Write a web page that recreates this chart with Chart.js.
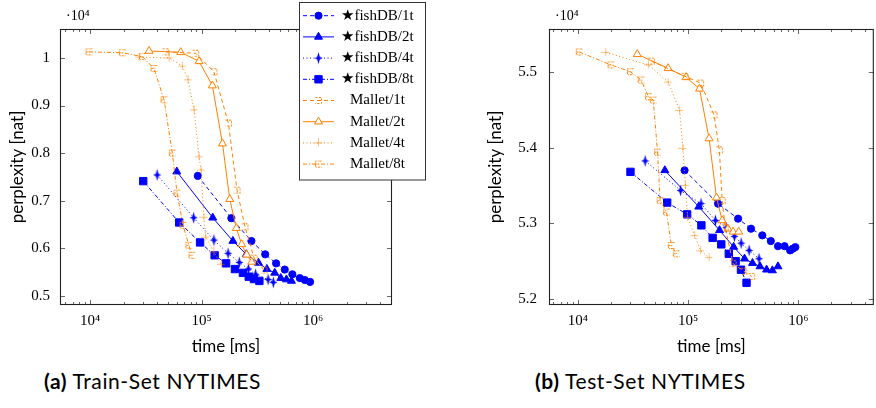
<!DOCTYPE html>
<html>
<head>
<meta charset="utf-8">
<script src="https://cdn.jsdelivr.net/npm/chart.js@4.4.1/dist/chart.umd.min.js"></script>
<style>
  html, body { margin: 0; padding: 0; background: #fff; width: 876px; height: 408px; overflow: hidden; }
  #trainBox { position: absolute; left: 0; top: 0; width: 470px; height: 360px; }
  #testBox  { position: absolute; left: 470px; top: 0; width: 410px; height: 360px; }
  .cap { position: absolute; top: 369px; font-family: Lato, sans-serif; font-size: 21px; letter-spacing: 0.6px; line-height: 24px; color: #000; white-space: nowrap; }
  .cap b { font-weight: 700; }
</style>
</head>
<body>
<div id="trainBox"><canvas id="trainChart" width="470" height="360"></canvas></div>
<div id="testBox"><canvas id="testChart" width="410" height="360"></canvas></div>
<div class="cap" style="left:44px"><b>(a)</b> Train-Set NYTIMES</div>
<div class="cap" style="left:535px"><b>(b)</b> Test-Set NYTIMES</div>

<script>
// --- DATA: time [ms] (x) and perplexity [nat] (y) ---

// (a) Train-Set
const trainFish1tX = [92500, 185000, 280000, 372000, 466000, 557000, 652000, 760000, 843000, 940000];
const trainFish1tY = [7520, 6630, 6150, 5870, 5680, 5550, 5450, 5370, 5330, 5290];
const trainFish2tX = [60000, 126000, 191000, 252000, 324000, 385000, 453000, 513000, 577000, 640000];
const trainFish2tY = [7610, 6640, 6150, 5870, 5690, 5560, 5480, 5370, 5340, 5310];
const trainFish4tX = [40000, 85000, 129000, 173000, 218000, 263000, 305000, 395000, 440000];
const trainFish4tY = [7540, 6640, 6170, 5890, 5700, 5560, 5450, 5340, 5280];
const trainFish8tX = [30000, 63000, 97000, 131000, 166000, 199000, 235000, 265000, 295000, 330000];
const trainFish8tY = [7410, 6540, 6120, 5850, 5680, 5560, 5480, 5400, 5350, 5310];
const trainMal1tX  = [47800, 88700, 129000, 174000, 208000, 245000, 296000, 363000];
const trainMal1tY  = [10130, 10100, 9710, 8630, 7220, 6450, 5790, 5540];
const trainMal2tX  = [33800, 65000, 95000, 125000, 154000, 179000, 205000, 229000, 254000, 282000];
const trainMal2tY  = [10147, 10120, 9930, 9420, 8200, 7030, 6420, 6080, 5860, 5710];
const trainMal4tX  = [27500, 51200, 67300, 75700, 85700, 95000, 99000, 105000, 109000, 129000, 150000];
const trainMal4tY  = [10020, 10000, 9830, 9540, 8910, 7920, 7640, 6650, 6230, 5920, 5660];
const trainMal8tX  = [9800, 19500, 29500, 37500, 46100, 54700, 60300, 68200, 77000, 82000];
const trainMal8tY  = [10130, 10110, 10030, 9780, 9120, 8000, 7160, 6480, 6060, 5850];

// (b) Test-Set
const testFish1tX = [92900, 187000, 284000, 372000, 471000, 563000, 654000, 750000, 843000, 891000, 940000];
const testFish1tY = [53700, 53260, 53063, 52931, 52843, 52768, 52700, 52700, 52645, 52667, 52688];
const testFish2tX = [61500, 125000, 193000, 259000, 325000, 384000, 449000, 515000, 582000, 654000];
const testFish2tY = [53700, 53220, 52910, 52690, 52535, 52477, 52433, 52390, 52380, 52433];
const testFish4tX = [40800, 85500, 131000, 177000, 222000, 263000, 303000, 358000, 440000];
const testFish4tY = [53824, 53435, 53262, 53040, 52944, 52830, 52740, 52645, 52535];
const testFish8tX = [30000, 64600, 98000, 132000, 167000, 200000, 234000, 270000, 302000, 339000];
const testFish8tY = [53680, 53275, 53120, 52975, 52810, 52724, 52600, 52503, 52390, 52218];
const testMal1tX  = [46400, 93500, 130000, 172000, 192000, 204000, 217000, 256000, 320000, 378000];
const testMal1tY  = [55140, 54940, 54850, 54430, 53970, 53300, 52950, 52470, 52370, 52300];
const testMal2tX  = [34600, 65900, 96000, 127000, 155000, 181000, 204000, 230000, 256000, 288000];
const testMal2tY  = [55230, 55045, 54926, 54775, 54120, 53340, 53040, 52930, 52890, 52890];
const testMal4tX  = [17900, 43600, 66000, 83800, 89700, 94500, 99000, 115000, 130000, 155000];
const testMal4tY  = [55255, 55090, 54864, 54490, 53990, 53500, 53080, 52840, 52640, 52550];
const testMal8tX  = [10300, 20000, 30000, 37500, 43700, 48300, 52800, 55800, 63700, 70500, 78200];
const testMal8tY  = [55260, 55090, 55000, 54890, 54670, 54626, 53940, 53300, 53150, 52710, 52600];

const seriesLabels = ['★fishDB/1t', '★fishDB/2t', '★fishDB/4t', '★fishDB/8t',
                      'Mallet/1t', 'Mallet/2t', 'Mallet/4t', 'Mallet/8t'];

const xMajorTicks = [1e4, 1e5, 1e6];
const xTickLabels = ['10⁴', '10⁵', '10⁶'];
const trainYTicks = [5000, 6000, 7000, 8000, 9000, 10000];
const testYTicks  = [52000, 53000, 54000, 55000];

// --- STYLE ---
const BLUE = '#0000ff';
const ORANGE = '#ff8000';
const SERIF = '"Liberation Serif", "DejaVu Serif", serif';
const SANS = 'Lato, "Open Sans", sans-serif';

// little marker images for styles Chart.js does not have
function marker(w, h, paint) {
    const c = document.createElement('canvas');
    c.width = w; c.height = h;
    paint(c.getContext('2d'));
    return c;
}
const starDiamond = marker(9, 13, g => {
    g.fillStyle = BLUE;
    g.beginPath();
    g.moveTo(4.5, 0.5); g.lineTo(5.8, 5.2); g.lineTo(8.5, 6.5); g.lineTo(5.8, 7.8);
    g.lineTo(4.5, 12.5); g.lineTo(3.2, 7.8); g.lineTo(0.5, 6.5); g.lineTo(3.2, 5.2);
    g.closePath(); g.fill();
});
const halfSquareR = marker(9, 9, g => {
    g.strokeStyle = ORANGE; g.lineWidth = 1; g.setLineDash([2, 1.5]);
    g.beginPath(); g.moveTo(1.5, 1.5); g.lineTo(7.5, 1.5); g.lineTo(7.5, 7.5); g.lineTo(1.5, 7.5); g.stroke();
});
const dotCross = marker(9, 9, g => {
    g.strokeStyle = ORANGE; g.lineWidth = 1; g.setLineDash([1, 1]);
    g.beginPath(); g.moveTo(4.5, 0.5); g.lineTo(4.5, 8.5); g.moveTo(0.5, 4.5); g.lineTo(8.5, 4.5); g.stroke();
});
const halfSquareL = marker(9, 9, g => {
    g.strokeStyle = ORANGE; g.lineWidth = 1; g.setLineDash([2, 1, 0.8, 1]);
    g.beginPath(); g.moveTo(7.5, 1.5); g.lineTo(1.5, 1.5); g.lineTo(1.5, 7.5); g.lineTo(7.5, 7.5);
    g.moveTo(1.5, 4.5); g.lineTo(6, 4.5); g.stroke();
});

const styles = [
    { color: BLUE,   dash: [4, 3],       point: 'circle',   r: 3.6, fill: BLUE },
    { color: BLUE,   dash: [],           point: 'triangle', r: 4.6, fill: BLUE },
    { color: BLUE,   dash: [1, 2.5],     point: starDiamond, r: 5,  fill: BLUE },
    { color: BLUE,   dash: [4, 2, 1, 2], point: 'rect',     r: 5.2, fill: BLUE },
    { color: ORANGE, dash: [4, 3],       point: halfSquareR, r: 4,  fill: ORANGE },
    { color: ORANGE, dash: [],           point: 'triangle', r: 4.6, fill: '#fff' },
    { color: ORANGE, dash: [1, 2.5],     point: dotCross,   r: 4,   fill: ORANGE },
    { color: ORANGE, dash: [4, 2, 1, 2], point: halfSquareL, r: 4,  fill: ORANGE }
];

function pts(xs, ys) { return xs.map((x, i) => ({ x: x, y: ys[i] })); }

function buildDatasets(series) {
    return series.map((s, i) => ({
        label: seriesLabels[i],
        data: pts(s[0], s[1]),
        showLine: true,
        borderColor: styles[i].color,
        backgroundColor: styles[i].fill,
        borderWidth: 1,
        borderDash: styles[i].dash,
        pointStyle: styles[i].point,
        pointRadius: styles[i].r,
        pointBorderWidth: 1,
        pointBorderColor: styles[i].color,
        pointBackgroundColor: styles[i].fill,
        tension: 0,
        order: i < 4 ? 2 : 1   // Mallet on top, like the source
    }));
}

function minorLogTicks(min, max) {
    const out = [];
    for (let d = 3; d <= 6; d++)
        for (let k = 2; k <= 9; k++) {
            const v = k * Math.pow(10, d);
            if (v > min && v < max) out.push(v);
        }
    return out;
}

// inward ticks on all four sides, the box, and the "·10^4" factor
const framePlugin = {
    id: 'frame',
    afterDatasetsDraw(chart) {
        const { ctx, chartArea: a, scales } = chart;
        const x = scales.x, y = scales.y;
        const seg = (x1, y1, x2, y2) => { ctx.beginPath(); ctx.moveTo(x1, y1); ctx.lineTo(x2, y2); ctx.stroke(); };
        ctx.save();
        ctx.strokeStyle = '#6a6a6a';
        ctx.lineWidth = 1;
        minorLogTicks(x.min, x.max).forEach(v => {
            const px = Math.round(x.getPixelForValue(v)) + 0.5;
            seg(px, a.bottom, px, a.bottom - 3); seg(px, a.top, px, a.top + 3);
        });
        xMajorTicks.forEach(v => {
            const px = Math.round(x.getPixelForValue(v)) + 0.5;
            seg(px, a.bottom, px, a.bottom - 5); seg(px, a.top, px, a.top + 5);
        });
        y.ticks.forEach(t => {
            const py = Math.round(y.getPixelForValue(t.value)) + 0.5;
            seg(a.left, py, a.left + 5, py); seg(a.right, py, a.right - 5, py);
        });
        ctx.strokeStyle = '#222';
        ctx.lineWidth = 1.1;
        ctx.strokeRect(a.left + 0.5, a.top + 0.5, a.width - 1, a.height - 1);
        ctx.fillStyle = '#000';
        ctx.font = '14px ' + SERIF;
        ctx.textAlign = 'left';
        ctx.textBaseline = 'middle';
        ctx.fillText('·10⁴', a.left + 6, 16);
        ctx.restore();
    }
};

// the boxed legend that sits over the right part of plot (a)
const legendPlugin = {
    id: 'boxLegend',
    afterDraw(chart) {
        const ctx = chart.ctx;
        const L = 299.5, T = 2.5, W = 126, H = 177.5;
        ctx.save();
        ctx.fillStyle = '#fff';
        ctx.fillRect(L, T, W, H);
        ctx.strokeStyle = '#333';
        ctx.lineWidth = 1;
        ctx.strokeRect(L, T, W, H);
        chart.data.datasets.forEach((ds, i) => {
            const yy = 15.7 + i * 21.2;
            ctx.strokeStyle = ds.borderColor;
            ctx.lineWidth = ds.borderWidth;
            ctx.setLineDash(ds.borderDash);
            ctx.beginPath(); ctx.moveTo(303, yy); ctx.lineTo(334, yy); ctx.stroke();
            ctx.setLineDash([]);
            ctx.fillStyle = ds.pointBackgroundColor;
            ctx.strokeStyle = ds.pointBorderColor;
            Chart.helpers.drawPoint(ctx, { pointStyle: ds.pointStyle, radius: ds.pointRadius, rotation: 0, borderWidth: 1 }, 318.5, yy);
            ctx.fillStyle = '#000';
            ctx.font = '15px ' + SERIF;
            ctx.textAlign = 'center';
            ctx.textBaseline = 'middle';
            ctx.fillText(ds.label, 377.5, yy);
        });
        ctx.restore();
    }
};

function makeChart(id, series, opt) {
    return new Chart(document.getElementById(id), {
        type: 'scatter',
        data: { datasets: buildDatasets(series) },
        options: {
            responsive: false,
            devicePixelRatio: 1,
            animation: false,
            events: [],
            layout: { padding: { left: 0, top: 29, right: opt.padRight, bottom: 0 } },
            plugins: { legend: { display: false }, tooltip: { enabled: false } },
            scales: {
                x: {
                    type: 'logarithmic',
                    min: opt.xMin, max: opt.xMax,
                    afterBuildTicks: s => { s.ticks = xMajorTicks.map(v => ({ value: v })); },
                    afterFit: s => { s.height = 55; },
                    grid: { display: false, drawTicks: false },
                    border: { display: false },
                    ticks: {
                        autoSkip: false, maxRotation: 0, padding: 7, color: '#000',
                        font: { family: SERIF, size: 15 },
                        callback: v => xTickLabels[xMajorTicks.indexOf(v)]
                    },
                    title: { display: true, text: 'time [ms]', color: '#000',
                             font: { family: SANS, size: 17 }, padding: { top: 0, bottom: 3 } }
                },
                y: {
                    min: opt.yMin, max: opt.yMax,
                    afterBuildTicks: s => { s.ticks = opt.yTicks.map(v => ({ value: v })); },
                    afterFit: s => { s.width = opt.yWidth; },
                    grid: { display: false, drawTicks: false },
                    border: { display: false },
                    ticks: {
                        padding: opt.yPad, color: '#000',
                        font: { family: SERIF, size: 15 },
                        callback: v => String(Math.round(v / 10) / 1000)
                    },
                    title: { display: true, text: 'perplexity [nat]', color: '#000',
                             font: { family: SANS, size: 17 }, padding: { top: opt.yTitlePad, bottom: 0 } }
                }
            }
        },
        plugins: opt.legend ? [framePlugin, legendPlugin] : [framePlugin]
    });
}

makeChart('trainChart', [
    [trainFish1tX, trainFish1tY], [trainFish2tX, trainFish2tY], [trainFish4tX, trainFish4tY], [trainFish8tX, trainFish8tY],
    [trainMal1tX, trainMal1tY], [trainMal2tX, trainMal2tY], [trainMal4tX, trainMal4tY], [trainMal8tX, trainMal8tY]
], { xMin: 5380, xMax: 5.1e6, yMin: 4804, yMax: 10610, yTicks: trainYTicks,
     padRight: 78, yWidth: 60, yPad: 10, yTitlePad: 7, legend: true });

makeChart('testChart', [
    [testFish1tX, testFish1tY], [testFish2tX, testFish2tY], [testFish4tX, testFish4tY], [testFish8tX, testFish8tY],
    [testMal1tX, testMal1tY], [testMal2tX, testMal2tY], [testMal4tX, testMal4tY], [testMal8tX, testMal8tY]
], { xMin: 5470, xMax: 4.84e6, yMin: 51925, yMax: 55563, yTicks: testYTicks,
     padRight: 1, yWidth: 79, yPad: 12, yTitlePad: 15, legend: false });
</script>
</body>
</html>
